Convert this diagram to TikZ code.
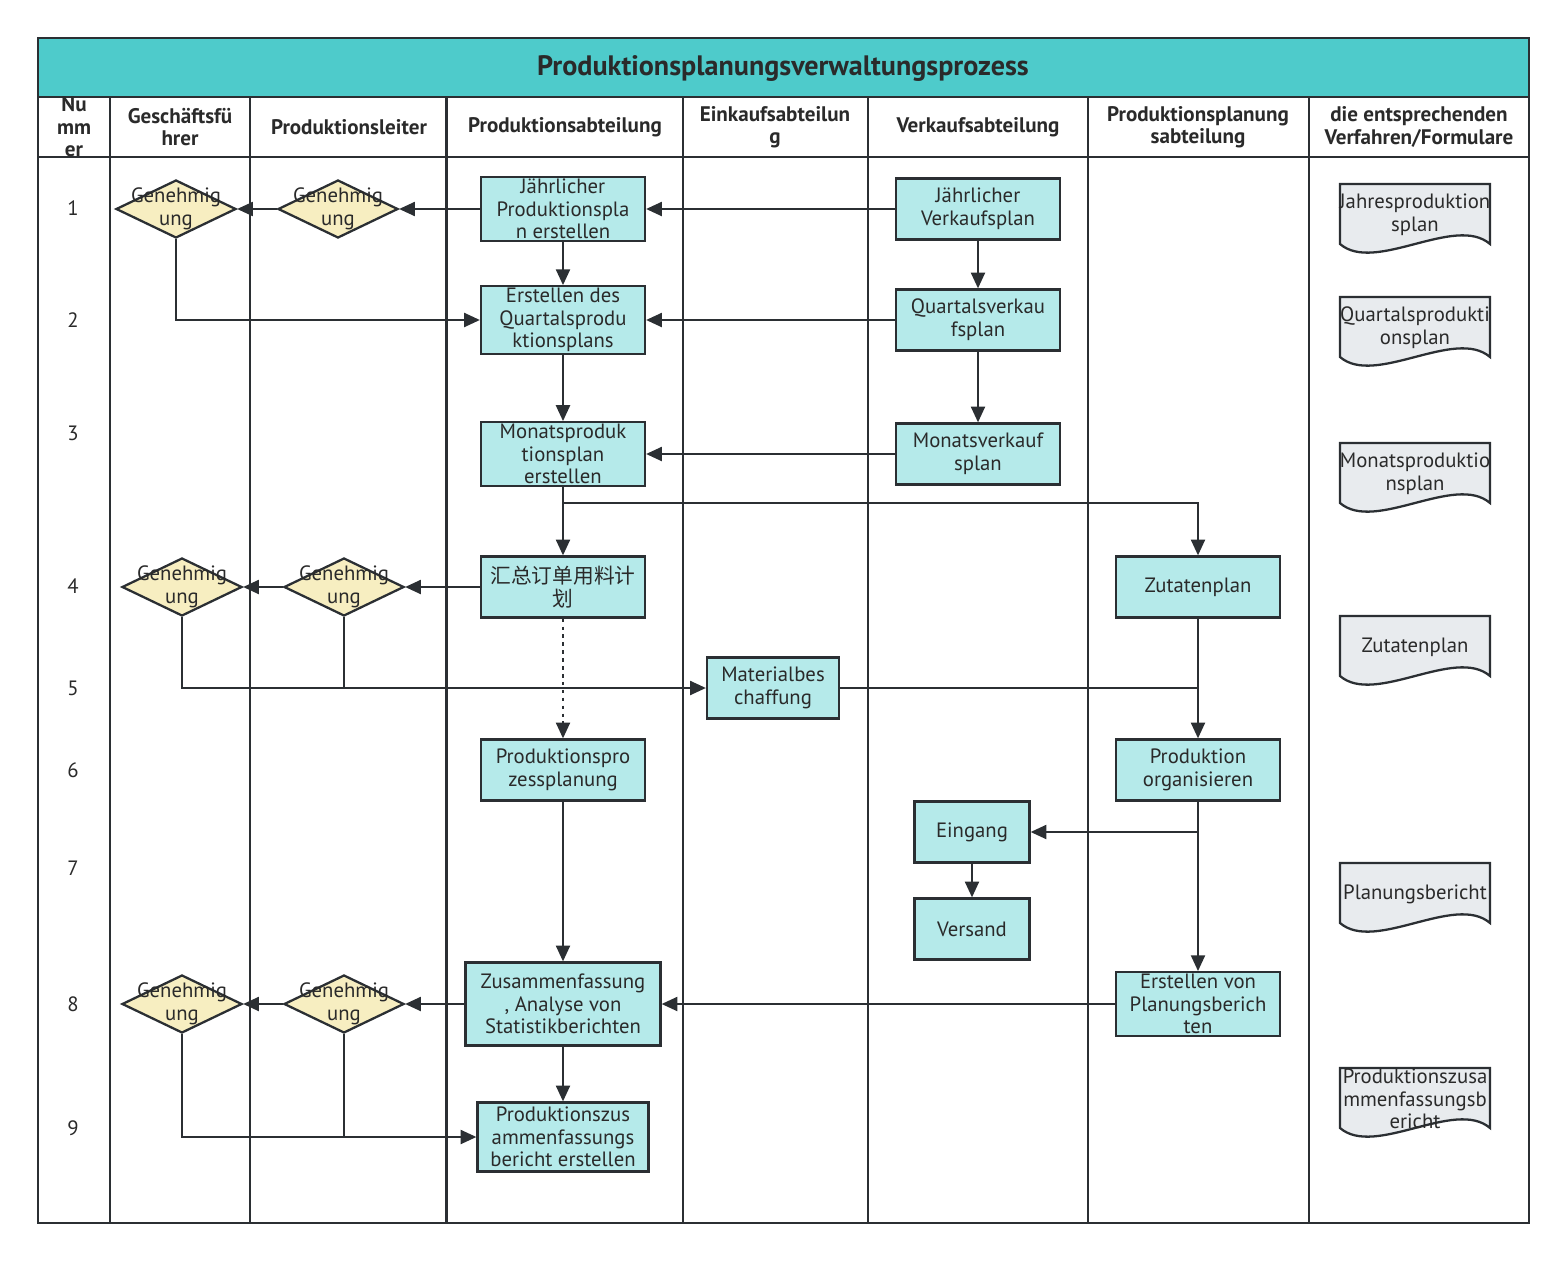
\documentclass[tikz,border=0pt]{standalone}
\usepackage{fontspec}
\setmainfont{PT Sans}
\newfontfamily\cjk{Noto Sans CJK SC}
\usepackage{tikz}
\usetikzlibrary{shapes.geometric, arrows.meta, positioning}
\usepackage{xcolor}

\definecolor{linec}{HTML}{2B2F33}
\definecolor{boxc}{HTML}{B5EAEA}
\definecolor{diac}{HTML}{F7EEC1}
\definecolor{docc}{HTML}{E8EBEE}
\definecolor{titlec}{HTML}{4ECBCB}
\definecolor{txtc}{HTML}{2A2A2A}
\newcommand{\boxfont}{\fontsize{11.8}{12.9}\selectfont}
\newcommand{\headfont}{\fontsize{12}{12.7}\selectfont\bfseries}

\begin{document}
\begin{tikzpicture}[x=0.02cm, y=-0.02cm]

	% --- STYLES ---
	\tikzstyle{frame} = [draw=linec, line width=1.6pt]
	\tikzstyle{lane} = [draw=linec, line width=1.35pt]
	\tikzstyle{process} = [rectangle, draw=linec, line width=1.3pt, fill=boxc, minimum width=3.28cm, minimum height=1.22cm, inner sep=1pt, align=center, text=txtc, font=\boxfont]
	\tikzstyle{decision} = [diamond, draw=linec, line width=1.3pt, fill=diac, minimum width=2.4cm, minimum height=1.16cm, inner sep=0pt]
	\tikzstyle{docbox} = [draw=linec, line width=1.3pt, fill=docc]
	\tikzstyle{doctext} = [align=center, text=txtc, font=\boxfont, inner sep=0pt]
	\tikzstyle{head} = [align=center, text=txtc, font=\headfont]
	\tikzstyle{arrow} = [line width=1.2pt, draw=linec, ->, >={Triangle[length=9pt,width=8pt]}]
	\tikzstyle{line} = [line width=1.2pt, draw=linec]

	\useasboundingbox (0,0) rectangle (1566,1261);

	% --- LANES ---
	\fill[titlec] (38,38) rectangle (1529,97);
	\node (title) [text=txtc, font=\fontsize{16}{18}\selectfont\bfseries] at (783,68) {Produktionsplanungsverwaltungsprozess};
	\draw[lane] (38,97) -- (1529,97);
	\draw[lane] (38,157) -- (1529,157);
	\foreach \x in {110,250,683,868,1088,1309}
		\draw[lane] (\x,97) -- (\x,1223);
	\draw[lane, line width=2pt] (446.5,97) -- (446.5,1223);
	\draw[frame] (38,38) rectangle (1529,1223);

	% headers
	\node (hnum) [head] at (74,127) {Nu\\mm\\er};
	\node (hgf) [head] at (180,127) {Geschäftsfü\\hrer};
	\node (hpl) [head] at (349,127) {Produktionsleiter};
	\node (hpa) [head] at (565,127) {Produktionsabteilung};
	\node (hein) [head] at (775,127) {Einkaufsabteilun\\g};
	\node (hver) [head] at (978,127) {Verkaufsabteilung};
	\node (hpp) [head] at (1198,127) {Produktionsplanung\\sabteilung};
	\node (hdoc) [head] at (1419,127) {die entsprechenden\\Verfahren/Formulare};

	% row numbers
	\foreach \n/\y in {1/208,2/320,3/433,4/586,5/688,6/770,7/868,8/1004,9/1128}
		\node (num\n) [text=txtc, font=\boxfont] at (73,\y) {\n};

	% --- NODES ---

	% row 1
	\node (g1) [decision, label={[align=center, text=txtc, font=\boxfont]center:Genehmig\\ung}] at (176,209) {};
	\node (l1) [decision, label={[align=center, text=txtc, font=\boxfont]center:Genehmig\\ung}] at (338,209) {};
	\node (p1) [process] at (563,209) {Jährlicher\\Produktionspla\\n erstellen};
	\node (v1) [process] at (978,209) {Jährlicher\\Verkaufsplan};

	% row 2
	\node (p2) [process] at (563,320) {Erstellen des\\Quartalsprodu\\ktionsplans};
	\node (v2) [process] at (978,320) {Quartalsverkau\\fsplan};

	% row 3
	\node (p3) [process] at (563,454) {Monatsproduk\\tionsplan\\erstellen};
	\node (v3) [process] at (978,454) {Monatsverkauf\\splan};

	% row 4
	\node (g4) [decision, label={[align=center, text=txtc, font=\boxfont]center:Genehmig\\ung}] at (182,587) {};
	\node (l4) [decision, label={[align=center, text=txtc, font=\boxfont]center:Genehmig\\ung}] at (344,587) {};
	\node (p4) [process, font=\boxfont\cjk] at (563,587) {汇总订单用料计\\划};
	\node (z) [process] at (1198,587) {Zutatenplan};

	% row 5
	\node (m) [process, minimum width=2.64cm] at (773,688) {Materialbes\\chaffung};

	% row 6
	\node (pp) [process] at (563,770) {Produktionspro\\zessplanung};
	\node (po) [process] at (1198,770) {Produktion\\organisieren};

	% row 7
	\node (e) [process, minimum width=2.3cm] at (972,832) {Eingang};
	\node (vs) [process, minimum width=2.3cm] at (972,929) {Versand};

	% row 8
	\node (g8) [decision, label={[align=center, text=txtc, font=\boxfont]center:Genehmig\\ung}] at (182,1004) {};
	\node (l8) [decision, label={[align=center, text=txtc, font=\boxfont]center:Genehmig\\ung}] at (344,1004) {};
	\node (s8) [process, minimum width=3.9cm, minimum height=1.66cm] at (563,1004) {Zusammenfassung\\, Analyse von\\Statistikberichten};
	\node (pb) [process] at (1198,1004) {Erstellen von\\Planungsberich\\ten};

	% row 9
	\node (p9) [process, minimum width=3.42cm, minimum height=1.38cm] at (563,1137) {Produktionszus\\ammenfassungs\\bericht erstellen};

	% forms
	\foreach \n/\y/\txt in {1/184/{Jahresproduktion\\splan}, 2/297/{Quartalsprodukti\\onsplan}, 3/443/{Monatsproduktio\\nsplan}, 4/616/{Zutatenplan}, 5/863/{Planungsbericht}, 6/1068/{Produktionszusa\\mmenfassungsb\\ericht}} {
		\draw[docbox] (1340,\y) -- (1490,\y) -- (1490,\y+60) .. controls (1455,\y+30) and (1375,\y+90) .. (1340,\y+60) -- cycle;
		\node (doc\n) [doctext] at (1415,\y+31) {\txt};
	}

	% --- ARROWS ---
	\draw[arrow] (v1) -- (p1);
	\draw[arrow] (p1) -- (l1);
	\draw[arrow] (l1) -- (g1);
	\draw[arrow] (g1.south) |- (p2.west);
	\draw[arrow] (p1) -- (p2);
	\draw[arrow] (v1) -- (v2);
	\draw[arrow] (v2) -- (p2);
	\draw[arrow] (p2) -- (p3);
	\draw[arrow] (v2) -- (v3);
	\draw[arrow] (v3) -- (p3);
	\draw[arrow] (p3) -- (p4);

	% branch to Zutatenplan
	\coordinate (split) at (563,503);
	\draw[arrow] (split) -| (z.north);

	\draw[arrow] (p4) -- (l4);
	\draw[arrow] (l4) -- (g4);
	\draw[arrow] (g4.south) |- (m.west);
	\draw[line] (l4.south) -- (l4.south |- m.west);
	\draw[arrow, dash pattern=on 2pt off 2.5pt] (p4) -- (pp);

	% material to production
	\coordinate (join5) at (1198,688);
	\draw[line] (m.east) -- (join5);
	\draw[arrow] (z) -- (po);
	\draw[arrow] (po) -- (pb);
	\draw[arrow] (po.south |- e.east) -- (e.east);
	\draw[arrow] (e) -- (vs);

	\draw[arrow] (pp) -- (s8);
	\draw[arrow] (pb) -- (s8);
	\draw[arrow] (s8) -- (l8);
	\draw[arrow] (l8) -- (g8);
	\draw[arrow] (s8) -- (p9);
	\draw[arrow] (g8.south) |- (p9.west);
	\draw[line] (l8.south) -- (l8.south |- p9.west);

\end{tikzpicture}
\end{document}
